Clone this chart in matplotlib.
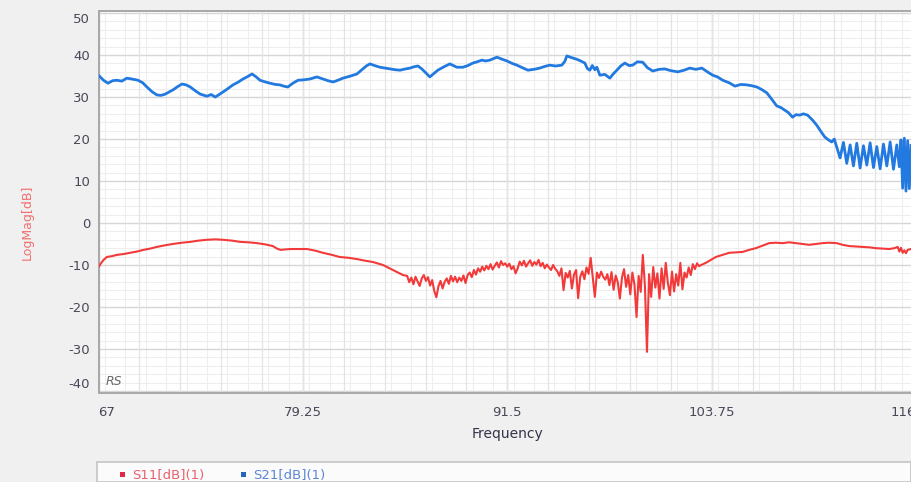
import numpy as np
import matplotlib
matplotlib.use("Agg")
import matplotlib.pyplot as plt
from matplotlib.patches import Rectangle
from matplotlib.ticker import MultipleLocator

plt.rcParams["axes.unicode_minus"] = False

# ---------------- data ----------------
freq_ticks = [67, 79.25, 91.5, 103.75, 116]
freq_tick_labels = ["67", "79.25", "91.5", "103.75", "116"]
db_ticks = [-40, -30, -20, -10, 0, 10, 20, 30, 40, 50]

# S21 transmission trace
s21_freq = [
    67.0, 67.3, 67.57, 67.85, 68.1, 68.4, 68.7, 69.0, 69.37, 69.65, 69.9, 70.2,
    70.5, 70.75, 71.0, 71.46, 71.75, 72.0, 72.25, 72.5, 72.8, 73.1, 73.5, 73.75,
    74.0, 74.46, 74.75, 75.06, 75.35, 75.66, 75.95, 76.2, 76.45, 76.68, 77.0,
    77.28, 77.6, 77.87, 78.1, 78.35, 78.65, 78.96, 79.3, 79.67, 80.09, 80.45,
    80.75, 81.06, 81.35, 81.65, 82.1, 82.49, 82.85, 83.05, 83.27, 83.55, 83.87,
    84.17, 84.47, 84.8, 85.07, 85.4, 85.67, 85.9, 86.14, 86.35, 86.56, 86.86,
    87.1, 87.34, 87.7, 88.06, 88.48, 88.84, 89.14, 89.44, 89.7, 89.98, 90.2,
    90.46, 90.7, 90.88, 91.2, 91.48, 91.8, 92.08, 92.4, 92.74, 93.1, 93.45,
    93.75, 94.05, 94.4, 94.77, 94.95, 95.07, 95.35, 95.67, 95.9, 96.15, 96.3,
    96.45, 96.6, 96.75, 96.87, 97.05, 97.35, 97.65, 97.85, 98.07, 98.3, 98.55,
    98.8, 99.02, 99.3, 99.62, 99.9, 100.22, 100.6, 100.94, 101.3, 101.72, 102.1,
    102.44, 102.8, 103.16, 103.5, 103.82, 104.1, 104.42, 104.8, 105.15, 105.5,
    105.86, 106.15, 106.46, 106.75, 107.06, 107.35, 107.65, 107.9, 108.13,
    108.35, 108.6, 108.8, 109.03, 109.25, 109.5, 109.8, 110.05, 110.3, 110.53,
    110.75, 110.95, 111.1, 111.25, 111.45, 111.65, 111.85, 112.05, 112.25,
    112.45, 112.65, 112.85, 113.05, 113.25, 113.45, 113.65, 113.85, 114.05,
    114.25, 114.45, 114.65, 114.85, 115.0, 115.1, 115.2, 115.3, 115.4, 115.5,
    115.6, 115.7,
]
s21_db = [
    35.2, 34.0, 33.3, 33.9, 34.0, 33.8, 34.5, 34.3, 34.0, 33.4, 32.4, 31.3,
    30.5, 30.4, 30.7, 31.7, 32.5, 33.1, 32.9, 32.4, 31.5, 30.7, 30.2, 30.6,
    30.0, 31.2, 32.0, 32.9, 33.5, 34.3, 34.9, 35.5, 34.8, 34.0, 33.6,
    33.3, 33.0, 32.9, 32.6, 32.4, 33.3, 34.0, 34.1, 34.3, 34.8, 34.3,
    33.9, 33.6, 34.0, 34.5, 35.0, 35.5, 36.7, 37.4, 37.9, 37.5, 37.1,
    36.9, 36.7, 36.5, 36.4, 36.7, 36.9, 37.2, 37.4, 36.8, 36.0, 34.8,
    35.6, 36.4, 37.2, 37.9, 37.1, 37.1, 37.5, 38.1, 38.4, 38.8, 38.6,
    38.8, 39.2, 39.5, 39.0, 38.6, 38.0, 37.6, 37.0, 36.4, 36.6, 36.9,
    37.3, 37.6, 37.4, 37.6, 38.5, 39.8, 39.4, 39.0, 38.6, 38.1, 36.8,
    36.4, 37.5, 36.5, 37.1, 35.2, 35.4, 34.5, 35.5, 36.4, 37.4, 38.1,
    37.5, 37.6, 38.4, 38.3, 37.0, 36.2, 36.6, 36.7, 36.3, 36.0, 36.4,
    36.9, 36.6, 36.9, 36.0, 35.2, 34.8, 34.0, 33.4, 32.6, 33.0,
    32.9, 32.7, 32.4, 31.8, 31.0, 29.5, 27.9, 27.5, 26.9,
    26.3, 25.2, 25.8, 25.7, 26.0, 25.7, 24.5, 23.3, 21.8, 20.5,
    19.8, 19.3, 20.0, 18.1, 15.5, 19.2, 14.2, 18.6, 13.6,
    19.0, 13.1, 18.4, 13.8, 19.1, 13.2, 18.2, 12.9, 18.8,
    13.6, 19.3, 12.8, 18.6, 13.4, 19.8, 8.3, 20.2, 7.6, 19.6,
    8.2, 18.5,
]

# S11 reflection trace: low band (smooth)
s11_lo_freq = [
    67.0, 67.15, 67.3, 67.5, 67.8, 68.1, 68.5, 68.9, 69.3, 69.7, 70.1, 70.5,
    71.0, 71.46, 72.0, 72.5, 73.0, 73.5, 74.0, 74.46, 75.0, 75.5, 76.0, 76.5,
    77.0, 77.45, 77.7, 77.9, 78.5, 79.0, 79.5, 80.0, 80.45, 81.0, 81.45, 82.0,
    82.5, 83.0, 83.45, 84.05, 84.65, 85.0, 85.25,
]
s11_lo_db = [
    -10.5, -9.6, -8.8, -8.1, -7.9, -7.6, -7.4, -7.1, -6.8, -6.4, -6.1, -5.7,
    -5.3, -5.0, -4.7, -4.5, -4.2, -4.0, -3.9, -4.0, -4.2, -4.5, -4.6, -4.8,
    -5.1, -5.5, -6.1, -6.4, -6.2, -6.2, -6.2, -6.6, -7.1, -7.6, -8.1, -8.3,
    -8.6, -9.0, -9.3, -10.0, -11.2, -11.9, -12.4,
]

# S11 mid band (85.5 .. 103.0 MHz, 0.125 MHz sweep step), noisy region
s11_mid_freq = np.linspace(85.5, 103.0, 141)
s11_mid_db = [
    -12.6, -14.1, -13.0, -14.6, -12.8, -13.9, -15.0, -13.2,
    -12.4, -13.8, -12.9, -14.9, -13.6, -16.2, -17.7, -15.1,
    -13.8, -15.6, -14.0, -13.2, -14.5, -12.6, -13.9, -12.8,
    -14.1, -13.0, -13.8, -12.5, -14.3, -12.4, -11.8, -12.9,
    -11.2, -12.3, -10.8, -11.6, -10.4, -11.3, -10.2, -11.0,
    -9.8, -11.1, -10.2, -9.4, -10.6, -9.1, -10.0, -9.6,
    -10.4, -9.7, -11.0, -10.3, -12.0, -10.8, -9.2, -10.1,
    -9.0, -10.4, -9.6, -8.9, -10.2, -9.3, -9.9, -8.8,
    -10.3, -9.5, -10.8, -9.9, -10.6, -11.2, -10.0, -10.9,
    -11.5, -12.6, -10.8, -16.0, -11.9, -13.0, -11.4, -15.6,
    -12.3, -11.2, -17.9, -12.8, -11.5, -13.4, -10.6, -12.1,
    -8.3, -12.9, -17.6, -11.8, -13.1, -11.6, -12.8, -13.5,
    -12.2, -14.8, -11.7, -15.9, -12.5, -14.1, -18.0, -13.0,
    -11.0, -15.2, -12.4, -17.0, -11.8, -14.6, -22.4, -12.6,
    -16.4, -7.6, -14.8, -30.7, -12.2, -17.6, -10.5, -15.4,
    -12.0, -18.0, -10.8, -15.7, -9.5, -14.2, -17.2, -11.6,
    -16.3, -12.2, -14.9, -9.5, -15.8, -11.8, -13.0, -10.6,
    -12.4, -9.8, -11.0, -9.6, -10.3,
]

# S11 high band (smooth)
s11_hi_freq = [
    103.125, 103.4, 103.7, 104.0, 104.4, 104.8, 105.2, 105.6, 106.0, 106.4,
    106.8, 107.2, 107.6, 108.0, 108.4, 108.8, 109.2, 109.6, 110.0, 110.4,
    110.8, 111.25, 111.6, 112.0, 112.4, 112.8, 113.2, 113.6, 114.0, 114.4,
    114.7, 114.9, 115.0, 115.1, 115.2, 115.3, 115.4, 115.5, 115.7,
]
s11_hi_db = [
    -10.0, -9.5, -8.8, -8.1, -7.6, -7.1, -7.0, -6.9, -6.4, -6.0,
    -5.4, -4.8, -4.7, -4.8, -4.6, -4.8, -5.0, -5.2, -5.0, -4.8,
    -4.7, -4.8, -5.2, -5.5, -5.6, -5.7, -5.8, -6.0, -6.1, -6.2,
    -6.0, -5.7, -6.8, -5.9, -7.1, -6.5, -7.2, -6.4, -6.2,
]

s11_freq = np.concatenate([s11_lo_freq, s11_mid_freq, s11_hi_freq])
s11_db = np.concatenate([s11_lo_db, s11_mid_db, s11_hi_db])

# ---------------- figure ----------------
W, H = 911, 482
fig = plt.figure(figsize=(W / 100, H / 100), dpi=100, facecolor="#f0f0f0")

ax_left, ax_right, ax_top, ax_bottom = 98.5, 916, 11, 393
ax = fig.add_axes([ax_left / W, 1 - ax_bottom / H,
                   (ax_right - ax_left) / W, (ax_bottom - ax_top) / H])
ax.set_facecolor("white")
ax.set_xlim(67, 116)
ax.set_ylim(-40.5, 50.5)

# grid: fine, medium and major lines
ax.xaxis.set_minor_locator(MultipleLocator(1.225))
ax.yaxis.set_minor_locator(MultipleLocator(2))
ax.grid(which="minor", color="#eeeeee", lw=0.8)
ax.grid(which="major", color="#d6d6d6", lw=1.0)
for xv in np.arange(67, 116.01, 2.45):
    ax.axvline(xv, color="#e4e4e4", lw=0.9, zorder=0.6)
ax.set_axisbelow(True)

ax.plot(s21_freq, s21_db, color="#2279e0", lw=2.0, solid_joinstyle="round", zorder=3)
ax.plot(s11_freq, s11_db, color="#f23a3a", lw=1.5, solid_joinstyle="round", zorder=3)

for sp in ax.spines.values():
    sp.set_color("#a8a8a8")
    sp.set_linewidth(1.4)

ax.set_xticks(freq_ticks)
ax.set_xticklabels(freq_tick_labels)
ax.set_yticks(db_ticks)
ax.tick_params(which="both", length=0)
ax.tick_params(axis="x", pad=9, labelsize=9.5, labelcolor="#484858")
ax.tick_params(axis="y", pad=6, labelsize=9.5, labelcolor="#484858")
xl = ax.get_xticklabels()
xl[0].set_ha("left")
xl[-1].set_ha("right")
yl = ax.get_yticklabels()
yl[-1].set_va("top")
yl[0].set_va("bottom")

ax.set_xlabel("Frequency", fontsize=10, color="#33334a", labelpad=6)
fig.text(27 / W, 1 - 222 / H, "LogMag[dB]", rotation=90, ha="center", va="center",
         fontsize=9, color="#f07070")

ax.text(0.009, 0.012, "RS", transform=ax.transAxes, fontsize=9, style="italic",
        color="#6a6a6a", ha="left", va="bottom")

# legend strip along the bottom
fig.patches.append(Rectangle((97 / W, 0), (W - 97) / W, (H - 462) / H,
                             transform=fig.transFigure, facecolor="#fbfbfb",
                             edgecolor="#c4c4c4", lw=1.2, zorder=0))
sq = 5
for x0, col, tcol, txt in [(120, "#e02848", "#e8606e", "S11[dB](1)"),
                           (241, "#2a64b8", "#5b86d6", "S21[dB](1)")]:
    fig.patches.append(Rectangle((x0 / W, 1 - (474 + sq / 2) / H), sq / W, sq / H,
                                 transform=fig.transFigure, facecolor=col,
                                 edgecolor="none", zorder=2))
    fig.text((x0 + 12) / W, 1 - 475 / H, txt, fontsize=9.5, color=tcol,
             ha="left", va="center")

fig.savefig("out.png", dpi=100, facecolor=fig.get_facecolor())
